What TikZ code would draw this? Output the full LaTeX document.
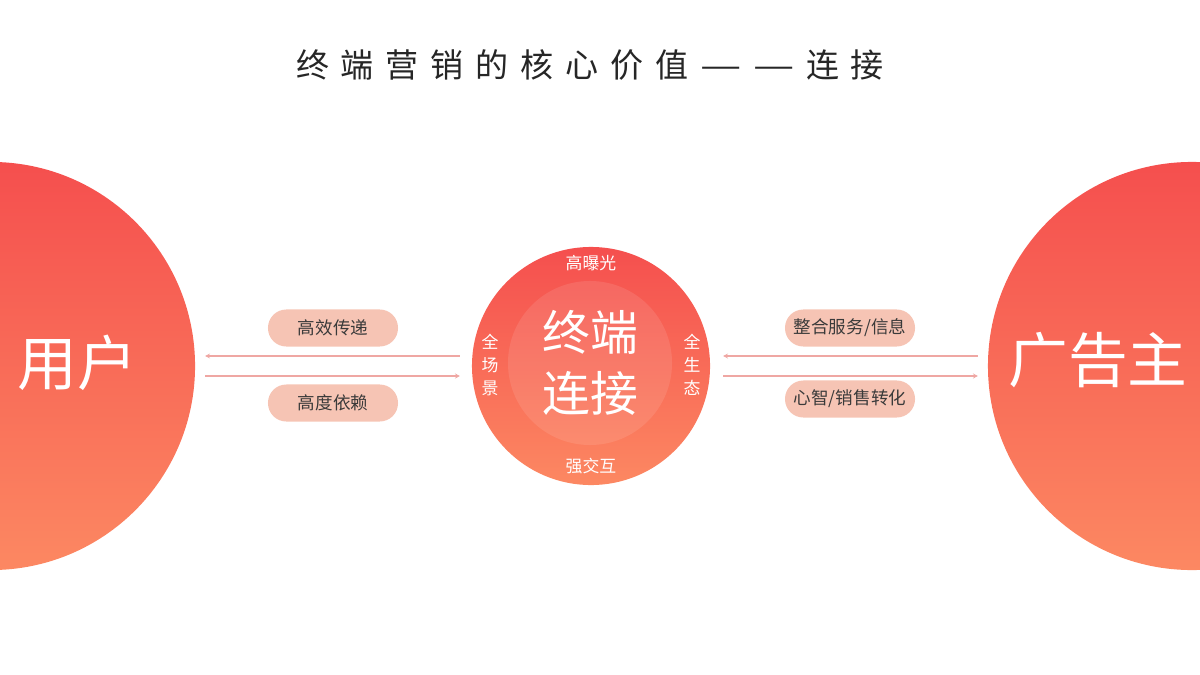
\documentclass[tikz,border=0pt]{standalone}
\usepackage{fontspec}
\usepackage{tikz}
\usepackage{xcolor}
\usetikzlibrary{arrows.meta}
\newfontfamily\cjk{Noto Sans CJK SC}
\newfontfamily\cjktitle[LetterSpace=36]{Noto Sans CJK SC}
\newcommand{\widedash}{\hspace{0.35em}\scalebox{1.4}[1]{—}}
\definecolor{hotred}{HTML}{F54F4E}
\definecolor{warmorange}{HTML}{FC8862}
\definecolor{peach}{HTML}{F6C4B4}
\definecolor{flowpink}{HTML}{EFA7A3}
\definecolor{inkgray}{HTML}{3A3A3A}
\tikzset{pill/.style = {rectangle, rounded corners=13pt, fill=peach, text=inkgray,
                        minimum width=3.25cm, minimum height=0.925cm,
                        font=\cjk\fontsize{12.5}{14}\selectfont}}

\begin{document}
\begin{tikzpicture}[x=0.025cm, y=-0.025cm]
            \useasboundingbox (0,0) rectangle (1200,675);

            \node[font={\cjktitle\fontsize{23.5}{28}\selectfont}, text=black!85] (title) at (590,65)
                {终端营销的核心价值\widedash\widedash\hspace{0.35em}连接};

            \begin{scope}[every node/.style = {circle, draw=none, inner sep=0pt, outer sep=0pt,
                                                top color=hotred, bottom color=warmorange}]
                \node[minimum size=10.2cm] (user) at (-9,366)   {};
                \node[minimum size=10.2cm] (adv)  at (1192,366) {};
                \node[minimum size=5.95cm] (hub)  at (591,366)  {};
            \end{scope}
            \node[circle, minimum size=4.1cm, fill=white, fill opacity=0.1, text opacity=1,
                  text=white, align=center, font=\cjk\fontsize{34}{43}\selectfont] (core) at (590,363) {终端\\连接};

            \begin{scope}[every node/.style = {text=white}]
                \node[font=\cjk\fontsize{42.5}{50}\selectfont] (userlbl) at (77,363)   {用户};
                \node[font=\cjk\fontsize{42.5}{50}\selectfont] (advlbl)  at (1098,360) {广告主};
                \node[font=\cjk\fontsize{12}{14}\selectfont] (expo)  at (591,263) {高曝光};
                \node[font=\cjk\fontsize{12}{14}\selectfont] (inter) at (591,466) {强交互};
                \node[font=\cjk\fontsize{12}{16.4}\selectfont, align=center] (scene) at (490,365) {全\\场\\景};
                \node[font=\cjk\fontsize{12}{16.4}\selectfont, align=center] (eco)   at (692,365) {全\\生\\态};
            \end{scope}

            \node[pill] (deliver) at (333,328) {高效传递};
            \node[pill] (depend)  at (333,403) {高度依赖};
            \node[pill] (service) at (850,328) {整合服务/信息};
            \node[pill] (convert) at (850,399) {心智/销售转化};

            \begin{scope}[>={Stealth[length=3.5pt, width=3.5pt]},
                            every edge/.style={draw=flowpink, line width=0.9pt}]
                \path [<-] ([shift={(10,-10)}]user.east) edge ([shift={(-12,-10)}]hub.west);
                \path [->] ([shift={(10,10)}]user.east)  edge ([shift={(-12,10)}]hub.west);
                \path [<-] ([shift={(13,-10)}]hub.east)  edge ([shift={(-10,-10)}]adv.west);
                \path [->] ([shift={(13,10)}]hub.east)   edge ([shift={(-10,10)}]adv.west);
            \end{scope}
        \end{tikzpicture}
\end{document}
